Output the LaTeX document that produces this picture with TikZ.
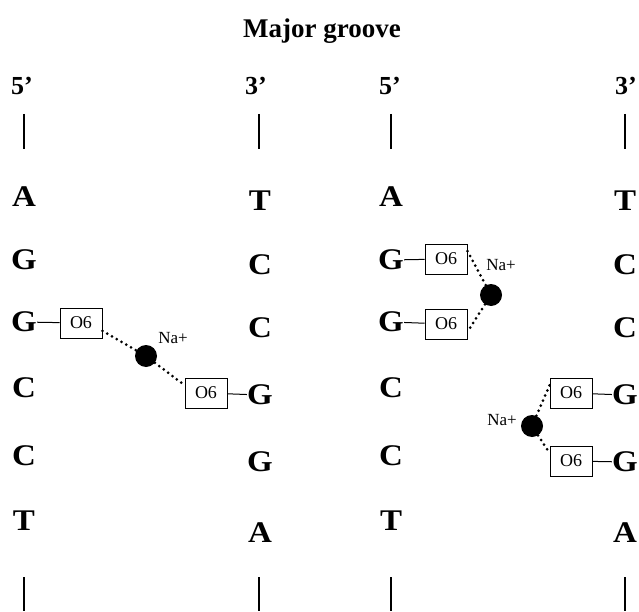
\documentclass[tikz,border=0pt]{standalone}
\usepackage{fontspec}
\setmainfont{Liberation Serif}
\newcommand{\basetxt}[1]{\scalebox{1.1}[1]{#1}}
\begin{document}
\begin{tikzpicture}[x=1pt,y=-1pt,
  base/.style={font=\fontsize{30}{30}\selectfont\bfseries, inner sep=0pt},
  endlab/.style={font=\fontsize{26}{26}\selectfont\bfseries, inner sep=0pt},
  titlelab/.style={font=\fontsize{27}{27}\selectfont\bfseries, inner sep=0pt},
  obox/.style={draw, line width=0.9pt, minimum width=42pt, minimum height=30pt, inner sep=0pt, font=\fontsize{18}{18}\selectfont},
  ion/.style={circle, fill=black, minimum size=22pt, inner sep=0pt},
  ionlab/.style={font=\fontsize{17}{17}\selectfont, inner sep=0pt},
  bond/.style={line width=1pt},
  coordl/.style={dash pattern=on 0pt off 5.5pt, line width=3pt, line cap=round},
  strand/.style={line width=2.2pt}
]
\useasboundingbox (0,0) rectangle (639,612);
\node[titlelab] (title) at (322,31) {Major groove};
% end labels
\node[endlab] (e1) at (22,86) {5’};
\node[endlab] (e2) at (256,86) {3’};
\node[endlab] (e3) at (390,86) {5’};
\node[endlab] (e4) at (626,86) {3’};
% strand ends
\foreach \n/\x in {1/24,2/259,3/391,4/625}{
  \coordinate (t\n a) at (\x,114);
  \coordinate (t\n b) at (\x,149);
  \coordinate (b\n a) at (\x,577);
  \coordinate (b\n b) at (\x,611);
  \draw[strand] (t\n a) -- (t\n b);
  \draw[strand] (b\n a) -- (b\n b);
}
% column 1
\node[base] (c1r1) at (24,197) {\basetxt{A}};
\node[base] (c1r2) at (24,260) {\basetxt{G}};
\node[base] (c1r3) at (24,322) {\basetxt{G}};
\node[base] (c1r4) at (24,388) {\basetxt{C}};
\node[base] (c1r5) at (24,456) {\basetxt{C}};
\node[base] (c1r6) at (24,521) {\basetxt{T}};
% column 2
\node[base] (c2r1) at (260,201) {\basetxt{T}};
\node[base] (c2r2) at (260,265) {\basetxt{C}};
\node[base] (c2r3) at (260,328) {\basetxt{C}};
\node[base] (c2r4) at (260,395) {\basetxt{G}};
\node[base] (c2r5) at (260,462) {\basetxt{G}};
\node[base] (c2r6) at (260,533) {\basetxt{A}};
% column 3
\node[base] (c3r1) at (391,197) {\basetxt{A}};
\node[base] (c3r2) at (391,260) {\basetxt{G}};
\node[base] (c3r3) at (391,322) {\basetxt{G}};
\node[base] (c3r4) at (391,388) {\basetxt{C}};
\node[base] (c3r5) at (391,456) {\basetxt{C}};
\node[base] (c3r6) at (391,521) {\basetxt{T}};
% column 4
\node[base] (c4r1) at (625,201) {\basetxt{T}};
\node[base] (c4r2) at (625,265) {\basetxt{C}};
\node[base] (c4r3) at (625,328) {\basetxt{C}};
\node[base] (c4r4) at (625,395) {\basetxt{G}};
\node[base] (c4r5) at (625,462) {\basetxt{G}};
\node[base] (c4r6) at (625,533) {\basetxt{A}};
% left complex
\node[obox] (ob1) at (81,323) {O6};
\node[obox] (ob2) at (206,393) {O6};
\node[ion] (na1) at (146,356) {};
\node[ionlab] (nl1) at (173,338) {Na+};
\draw[bond] (c1r3) -- (ob1);
\draw[bond] (ob2) -- (c2r4);
\draw[coordl] (ob1.-20) -- (na1);
\draw[coordl] (na1) -- (ob2.160);
% right upper complex
\node[obox] (ob3) at (446,259) {O6};
\node[obox] (ob4) at (446,324) {O6};
\node[ion] (na2) at (491,295) {};
\node[ionlab] (nl2) at (501,265) {Na+};
\draw[bond] (c3r2) -- (ob3);
\draw[bond] (c3r3) -- (ob4);
\draw[coordl] (ob3.20) -- (na2);
\draw[coordl] (na2) -- (ob4.-20);
% right lower complex
\node[obox] (ob5) at (571,393) {O6};
\node[obox] (ob6) at (571,461) {O6};
\node[ion] (na3) at (532,426) {};
\node[ionlab] (nl3) at (502,420) {Na+};
\draw[bond] (ob5) -- (c4r4);
\draw[bond] (ob6) -- (c4r5);
\draw[coordl] (na3) -- (ob5.160);
\draw[coordl] (na3) -- (ob6.160);
\end{tikzpicture}
\end{document}
